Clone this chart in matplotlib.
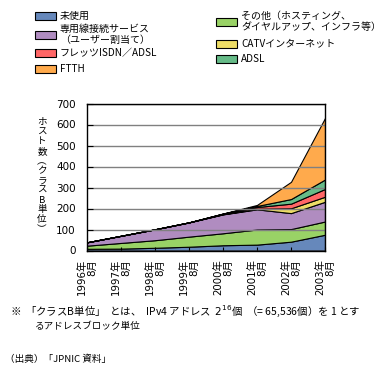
import matplotlib
matplotlib.use("Agg")
import matplotlib.pyplot as plt
from matplotlib.patches import Rectangle

plt.rcParams['font.family'] = ['Noto Sans CJK JP', 'DejaVu Sans']

years = ["1996年", "1997年", "1998年", "1999年", "2000年", "2001年", "2002年", "2003年"]
month = "8月"
unused = [8, 9, 13, 18, 25, 28, 42, 75]
other = [15, 27, 36, 48, 57, 72, 60, 63]
leased = [16, 34, 52, 68, 90, 96, 76, 94]
catv = [0, 0, 0, 0, 1, 3, 23, 24]
flets = [0, 0, 0, 0, 2, 8, 22, 37]
adsl = [0, 0, 0, 0, 1, 5, 22, 45]
ftth = [0, 0, 0, 0, 0, 5, 82, 293]

series_names = ["未使用", "その他（ホスティング、\nダイヤルアップ、インフラ等）", "専用線接続サービス\n（ユーザー割当て）",
                "CATVインターネット", "フレッツISDN／ADSL", "ADSL", "FTTH"]
colors = ["#6688bb", "#99d266", "#b08cc0", "#eedd66", "#ff6666", "#66bb88", "#ffaa4c"]

fig = plt.figure(figsize=(3.87, 3.74), dpi=100)
ax = fig.add_axes([87/387, 1-250.5/374, (325-87)/387, (250.5-103.5)/374])

x = list(range(len(years)))
ax.stackplot(x, unused, other, leased, catv, flets, adsl, ftth, colors=colors,
             edgecolor="black", linewidth=0.8)
ax.set_xlim(0, len(years)-1)
ax.set_ylim(0, 700)
ax.set_yticks(range(0, 701, 100))
ax.yaxis.grid(True, color="#808080", linewidth=1)
for gl in ax.get_ygridlines():
    gl.set_zorder(0.5)
ax.set_xticks(x)
ax.set_xticklabels([f"{y}\n{month}" for y in years], rotation=90, fontsize=7.4,
                   multialignment="right", linespacing=0.95,
                   family=['DejaVu Sans', 'Noto Sans CJK JP'])
ax.tick_params(axis="x", direction="in", length=3, pad=6)
ax.tick_params(axis="y", direction="in", length=4, labelsize=7.5, pad=8)
for lab in ax.get_yticklabels():
    lab.set_family("DejaVu Sans")
for s in ax.spines.values():
    s.set_color("black")
    s.set_linewidth(1)

# vertical y-label
ylab = "ホスト数︵クラスB単位︶"
fig.text(42/387, 1-176/374, "\n".join(ylab), ha="center", va="center",
         fontsize=6.9, linespacing=1.1)

# legend
def leg(idx, yc, nl, bx, tx):
    fig.patches.append(Rectangle((bx/387, 1-(yc+4)/374), 21/387, 8/374,
                                 transform=fig.transFigure, facecolor=colors[idx],
                                 edgecolor="black", linewidth=0.8))
    if nl == 2:
        fig.text(tx/387, 1-(yc-11)/374, series_names[idx], ha="left", va="top",
                 fontsize=7.2, linespacing=1.1)
    else:
        fig.text(tx/387, 1-yc/374, series_names[idx], ha="left", va="center",
                 fontsize=7.2)

for idx, yc, nl in [(0, 15.7, 1), (2, 35, 2), (4, 53, 1), (6, 68.5, 1)]:
    leg(idx, yc, nl, 35, 60)
for idx, yc, nl in [(1, 22, 2), (3, 43.5, 1), (5, 59, 1)]:
    leg(idx, yc, nl, 216, 241)

# footnotes
fig.text(10/387, 1-311.5/374,
         "※  「クラスB単位」  とは、  IPv4 アドレス  $2^{16}$個  （= 65,536個）を 1 とす",
         ha="left", va="center", fontsize=7.5)
fig.text(35/387, 1-326.5/374, "るアドレスブロック単位", ha="left", va="center", fontsize=6.9)
fig.text(5/387, 1-359.5/374, "（出典）「JPNIC 資料」", ha="left", va="center", fontsize=6.9)

fig.savefig("out.png", dpi=100)
